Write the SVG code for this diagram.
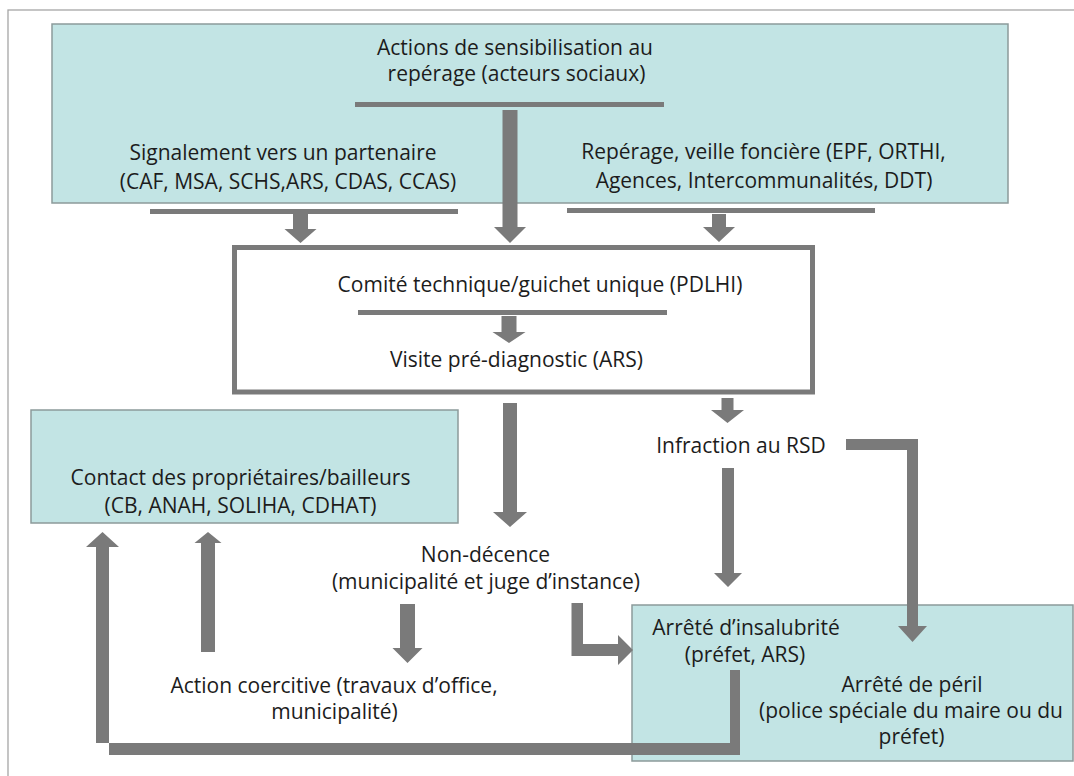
<svg xmlns="http://www.w3.org/2000/svg" width="1074" height="776" viewBox="0 0 1074 776">
<style>
.frame{fill:none;stroke:#a6a6a6;stroke-width:1.3}
.box{fill:#c2e4e4;stroke:#8c9a9a;stroke-width:1.5}
.cbox{fill:#ffffff;stroke:#7a7a7a;stroke-width:5}
.arr{fill:#7a7a7a}
text{font-family:"Open Sans","Liberation Sans",sans-serif;font-size:21px;fill:#1c1c1c;text-anchor:middle}
</style>
<rect x="0" y="0" width="1074" height="776" fill="#ffffff"/>
<rect class="frame" x="8" y="10" width="1100" height="800"/>

<g id="n-actions">
<rect class="box" x="52" y="24" width="956" height="179"/>
<text x="515" y="55">Actions de sensibilisation au</text>
<text x="516.5" y="81">repérage (acteurs sociaux)</text>
</g>
<g id="n-signalement">
<text x="283" y="160">Signalement vers un partenaire</text>
<text x="288" y="189">(CAF, MSA, SCHS,ARS, CDAS, CCAS)</text>
</g>
<g id="n-reperage">
<text x="763.5" y="159">Repérage, veille foncière (EPF, ORTHI,</text>
<text x="764" y="188">Agences, Intercommunalités, DDT)</text>
</g>
<g id="n-comite">
<rect class="cbox" x="234.5" y="247.5" width="578" height="144.5"/>
<text x="540" y="291.5">Comité technique/guichet unique (PDLHI)</text>
</g>
<g id="n-visite">
<text x="516.5" y="366.5">Visite pré-diagnostic (ARS)</text>
</g>
<g id="n-contact">
<rect class="box" x="31" y="410" width="427" height="113"/>
<text x="240.5" y="485">Contact des propriétaires/bailleurs</text>
<text x="240.5" y="513">(CB, ANAH, SOLIHA, CDHAT)</text>
</g>
<g id="n-infraction">
<text x="741" y="453">Infraction au RSD</text>
</g>
<g id="n-nondecence">
<text x="485.5" y="562">Non-décence</text>
<text x="486" y="589">(municipalité et juge d’instance)</text>
</g>
<g id="n-coercitive">
<text x="334" y="693">Action coercitive (travaux d’office,</text>
<text x="334.5" y="719">municipalité)</text>
</g>
<g id="n-arretes">
<rect class="box" x="632" y="605" width="441" height="156"/>
</g>
<g id="n-insalubrite">
<text x="746" y="635">Arrêté d’insalubrité</text>
<text x="745" y="662">(préfet, ARS)</text>
</g>
<g id="n-peril">
<text x="912" y="692">Arrêté de péril</text>
<text x="911" y="718">(police spéciale du maire ou du</text>
<text x="911.5" y="744">préfet)</text>
</g>

<g id="connectors">
<rect class="arr" x="355" y="102" width="309" height="5"/>
<rect class="arr" x="150" y="209" width="308" height="5"/>
<rect class="arr" x="567" y="208" width="308" height="5"/>
<rect class="arr" x="358" y="310" width="309" height="5"/>
<path class="arr" d="M293,214 L308,214 L308,229 L316.5,229 L300.5,243 L284.5,229 L293,229 Z"/>
<path class="arr" d="M502.5,110 L517.5,110 L517.5,227 L526,227 L510,243 L494,227 L502.5,227 Z"/>
<path class="arr" d="M712,214 L726,214 L726,227 L735,227 L719,242 L703,227 L712,227 Z"/>
<path class="arr" d="M501.5,316 L516.5,316 L516.5,332 L525.5,332 L509,343 L492.5,332 L501.5,332 Z"/>
<path class="arr" d="M721.5,398 L733.5,398 L733.5,410 L744,410 L727.5,423 L711,410 L721.5,410 Z"/>
<path class="arr" d="M503,403 L517,403 L517,512 L527,512 L510,527 L493,512 L503,512 Z"/>
<path class="arr" d="M722,468 L734,468 L734,573 L742,573 L728,587 L714,573 L722,573 Z"/>
<path class="arr" d="M846,439 L918,439 L918,626 L927,626 L912.5,642 L898,626 L907,626 L907,450 L846,450 Z"/>
<path class="arr" d="M571.5,603 L583,603 L583,644 L618,644 L618,635 L633,650 L618,665 L618,656 L571.5,656 Z"/>
<path class="arr" d="M400,604 L415,604 L415,648 L422.5,648 L407.5,663 L392.5,648 L400,648 Z"/>
<path class="arr" d="M201,652 L215,652 L215,543 L221.5,543 L208,532 L194.5,543 L201,543 Z"/>
<path class="arr" d="M730,670 L740,670 L740,755 L109,755 L109,547 L119,547 L102.5,532 L86,547 L96,547 L96,743 L730,743 Z"/>
</g>
</svg>
